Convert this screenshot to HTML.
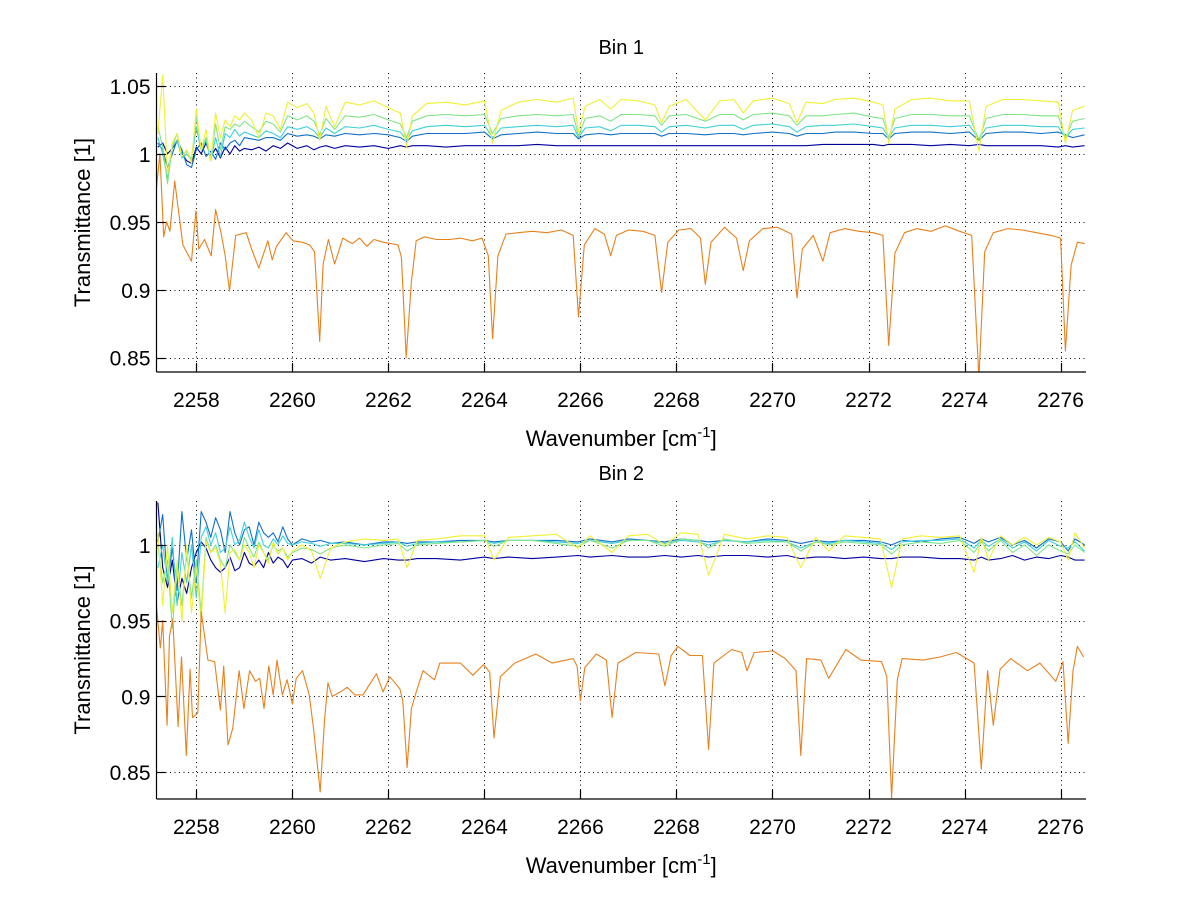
<!DOCTYPE html>
<html><head><meta charset="utf-8"><style>
html,body{margin:0;padding:0;background:#fff;}
svg{display:block;font-family:"Liberation Sans",sans-serif;}
</style></head><body>
<svg id="fig" width="1200" height="901" xmlns="http://www.w3.org/2000/svg"></svg>
<script>
// ---------- shared axis settings ----------
const xTicks = [2258,2260,2262,2264,2266,2268,2270,2272,2274,2276];
const topYTicks = [0.85,0.9,0.95,1,1.05];
const topYLabels = ["0.85","0.9","0.95","1","1.05"];
const botYTicks = [0.85,0.9,0.95,1];
const botYLabels = ["0.85","0.9","0.95","1"];

// ---------- Bin 1 data ----------
const topGridX = [2257.2,2257.3,2257.4,2257.5,2257.6,2257.7,2257.8,2257.9,2258.0,2258.1,2258.2,2258.3,2258.4,2258.5,2258.6,2258.7,2258.8,2258.9,2259.0,
2259.15,2259.3,2259.45,2259.6,2259.75,2259.9,
2260.1,2260.3,2260.45,2260.57,2260.7,2260.88,
2261.1,2261.4,2261.7,2262.0,2262.25,2262.38,2262.5,2262.8,
2263.2,2263.6,2264.0,2264.17,2264.35,2264.7,
2265.1,2265.5,2265.85,2265.96,2266.1,2266.4,2266.63,2266.85,
2267.2,2267.55,2267.69,2267.85,2268.2,2268.6,2268.9,
2269.2,2269.39,2269.6,2270.0,2270.35,2270.51,2270.7,
2271.05,2271.3,2271.7,2272.1,2272.3,2272.42,2272.55,2272.9,
2273.3,2273.7,2274.1,2274.3,2274.45,2274.8,
2275.2,2275.6,2275.95,2276.1,2276.25,2276.5];
const topNavy = [1.005,1.008,1.000,1.004,1.010,1.000,0.995,0.993,1.005,1.000,1.008,0.998,1.004,0.997,1.005,1.000,1.006,1.002,1.004,
1.003,1.005,1.002,1.006,1.004,1.008,
1.004,1.006,1.003,1.005,1.006,1.004,
1.006,1.005,1.006,1.004,1.006,1.005,1.006,1.006,
1.005,1.006,1.006,1.006,1.006,1.006,
1.007,1.006,1.006,1.006,1.006,1.006,1.006,1.006,
1.006,1.006,1.006,1.006,1.006,1.006,1.006,
1.006,1.006,1.006,1.006,1.006,1.006,1.006,
1.007,1.007,1.007,1.007,1.006,1.007,1.007,1.007,
1.006,1.007,1.006,1.007,1.006,1.006,
1.006,1.006,1.005,1.006,1.005,1.006];
const topBlue = [1.008,1.003,0.990,1.000,1.010,1.003,0.992,0.990,1.003,1.008,0.998,1.002,0.996,1.008,1.003,1.008,1.010,1.006,1.012,
1.011,1.010,1.012,1.012,1.010,1.015,
1.013,1.014,1.013,1.011,1.014,1.013,
1.015,1.014,1.015,1.014,1.012,1.009,1.013,1.015,
1.015,1.015,1.016,1.011,1.014,1.015,
1.016,1.015,1.015,1.011,1.014,1.015,1.014,1.015,
1.015,1.015,1.013,1.015,1.015,1.014,1.015,
1.015,1.014,1.015,1.016,1.015,1.013,1.015,
1.015,1.016,1.016,1.015,1.015,1.011,1.015,1.016,
1.016,1.015,1.016,1.010,1.015,1.016,
1.016,1.015,1.016,1.014,1.012,1.014];
const topCyan = [1.012,1.000,0.982,1.005,1.010,0.997,1.000,0.995,1.020,1.002,1.010,0.995,1.012,0.998,1.015,1.012,1.018,1.013,1.016,
1.014,1.012,1.017,1.015,1.012,1.020,
1.018,1.020,1.017,1.012,1.019,1.015,
1.020,1.019,1.021,1.018,1.016,1.010,1.017,1.020,
1.021,1.020,1.021,1.012,1.019,1.020,
1.021,1.020,1.021,1.012,1.019,1.020,1.017,1.021,
1.021,1.020,1.016,1.020,1.021,1.019,1.021,
1.021,1.018,1.021,1.022,1.020,1.016,1.020,
1.021,1.021,1.022,1.020,1.019,1.012,1.019,1.021,
1.021,1.020,1.021,1.011,1.019,1.021,
1.021,1.020,1.020,1.012,1.018,1.019];
const topGreen = [1.020,1.005,0.978,1.005,1.015,0.998,1.002,0.996,1.028,1.003,1.012,0.996,1.022,1.003,1.020,1.018,1.022,1.020,1.024,
1.020,1.016,1.024,1.022,1.016,1.028,
1.025,1.028,1.024,1.014,1.026,1.018,
1.028,1.027,1.029,1.025,1.022,1.012,1.024,1.028,
1.029,1.028,1.029,1.015,1.026,1.028,
1.029,1.028,1.029,1.013,1.026,1.028,1.024,1.029,
1.029,1.028,1.021,1.028,1.029,1.024,1.029,
1.029,1.025,1.029,1.030,1.028,1.021,1.028,
1.028,1.029,1.030,1.027,1.026,1.012,1.026,1.029,
1.029,1.028,1.028,1.010,1.026,1.029,
1.029,1.028,1.028,1.012,1.024,1.026];
const topYellow = [1.015,1.058,0.985,1.008,1.015,0.998,1.003,0.993,1.033,1.002,1.018,0.995,1.030,1.012,1.025,1.020,1.028,1.025,1.030,
1.025,1.012,1.030,1.028,1.018,1.038,
1.034,1.037,1.030,1.010,1.035,1.020,
1.038,1.036,1.039,1.034,1.030,1.005,1.028,1.037,
1.038,1.036,1.039,1.008,1.032,1.038,
1.040,1.038,1.041,1.016,1.035,1.040,1.033,1.040,
1.039,1.036,1.023,1.035,1.040,1.025,1.039,
1.040,1.030,1.039,1.041,1.037,1.023,1.038,
1.037,1.040,1.041,1.038,1.036,1.008,1.033,1.040,
1.041,1.039,1.039,1.002,1.035,1.040,
1.040,1.039,1.038,1.008,1.032,1.035];
const topOrangeX = [2257.17,2257.24,2257.32,2257.38,2257.45,2257.55,2257.72,2257.9,2257.99,2258.05,2258.17,2258.31,2258.4,2258.52,2258.6,2258.69,2258.82,2259.04,2259.14,2259.3,2259.49,2259.58,2259.67,2259.87,2260.01,2260.2,2260.36,2260.46,2260.57,2260.64,2260.75,2260.88,2261.05,2261.25,2261.4,2261.55,2261.7,2261.89,2262.05,2262.2,2262.27,2262.37,2262.48,2262.58,2262.75,2263.0,2263.28,2263.5,2263.75,2263.95,2264.08,2264.17,2264.28,2264.45,2264.7,2265.0,2265.3,2265.6,2265.85,2265.96,2266.08,2266.3,2266.5,2266.63,2266.75,2267.0,2267.3,2267.55,2267.69,2267.82,2268.05,2268.3,2268.5,2268.6,2268.72,2269.0,2269.25,2269.39,2269.52,2269.8,2270.1,2270.4,2270.51,2270.62,2270.85,2271.05,2271.2,2271.5,2271.8,2272.1,2272.3,2272.42,2272.55,2272.75,2273.0,2273.3,2273.6,2273.9,2274.15,2274.3,2274.42,2274.6,2274.9,2275.2,2275.5,2275.8,2276.0,2276.1,2276.22,2276.35,2276.5];
const topOrange = [0.975,1.000,0.939,0.950,0.943,0.980,0.933,0.921,0.958,0.930,0.937,0.925,0.959,0.941,0.925,0.899,0.940,0.942,0.931,0.916,0.936,0.922,0.932,0.942,0.936,0.935,0.933,0.928,0.862,0.919,0.937,0.919,0.938,0.934,0.938,0.932,0.937,0.935,0.934,0.933,0.924,0.850,0.906,0.936,0.939,0.937,0.937,0.938,0.936,0.938,0.925,0.864,0.925,0.941,0.942,0.943,0.942,0.944,0.940,0.880,0.933,0.945,0.941,0.925,0.940,0.944,0.943,0.940,0.898,0.935,0.944,0.945,0.938,0.904,0.935,0.946,0.938,0.914,0.936,0.945,0.946,0.941,0.894,0.930,0.940,0.921,0.942,0.945,0.943,0.942,0.940,0.859,0.927,0.942,0.945,0.943,0.947,0.943,0.940,0.835,0.928,0.942,0.945,0.944,0.942,0.940,0.938,0.855,0.918,0.935,0.934];

// ---------- Bin 2 data ----------
const botGridX = [2257.2,2257.3,2257.4,2257.5,2257.6,2257.7,2257.8,2257.9,2258.0,2258.1,
2258.2,2258.3,2258.4,2258.5,2258.6,2258.7,2258.8,2258.9,2259.0,2259.1,
2259.2,2259.3,2259.4,2259.5,2259.6,2259.7,2259.8,2259.9,2260.0,
2260.2,2260.4,2260.58,2260.8,2261.1,2261.5,2261.9,2262.2,2262.39,2262.6,
2263.0,2263.5,2264.0,2264.2,2264.5,2265.0,2265.5,2265.95,2266.2,2266.66,
2267.0,2267.4,2267.76,2268.1,2268.45,2268.67,2269.0,2269.47,2269.9,2270.3,
2270.59,2270.9,2271.17,2271.5,2271.9,2272.25,2272.48,2272.7,2273.1,2273.5,
2273.9,2274.2,2274.35,2274.5,2274.75,2275.0,2275.25,2275.5,2275.75,2276.0,
2276.16,2276.3,2276.5];
const botNavy = [1.028,0.985,0.972,0.990,0.962,0.978,0.968,0.985,0.995,1.002,
0.998,0.990,0.985,0.982,0.985,0.992,0.983,0.985,0.995,0.988,
0.986,0.990,0.985,0.995,0.988,0.992,0.990,0.985,0.990,
0.991,0.988,0.992,0.990,0.991,0.989,0.991,0.990,0.990,0.991,
0.991,0.990,0.992,0.991,0.992,0.991,0.992,0.993,0.992,0.993,
0.992,0.992,0.993,0.992,0.993,0.992,0.993,0.993,0.992,0.993,
0.991,0.992,0.992,0.991,0.992,0.991,0.991,0.992,0.992,0.991,
0.991,0.990,0.992,0.990,0.991,0.993,0.990,0.992,0.991,0.993,
0.992,0.990,0.990];
const botBlue = [1.002,1.020,0.975,0.998,0.970,1.022,0.990,1.010,0.975,1.022,
1.015,1.005,1.018,1.010,0.995,1.022,1.008,1.000,1.010,1.012,
1.000,1.015,1.008,1.005,1.008,1.002,1.012,1.004,1.000,
1.004,1.002,1.003,1.001,1.002,1.000,1.002,1.002,1.001,1.002,
1.002,1.003,1.003,1.002,1.003,1.003,1.003,1.002,1.004,1.002,
1.004,1.003,1.002,1.004,1.003,1.002,1.003,1.002,1.004,1.003,
1.001,1.003,1.002,1.003,1.003,1.002,1.000,1.003,1.002,1.004,
1.005,1.001,1.004,1.002,1.005,1.000,1.003,0.998,1.004,1.002,
0.996,1.004,1.000];
const botCyan = [0.985,1.000,0.975,1.005,0.960,0.995,0.975,1.000,0.965,1.005,
1.012,1.000,1.008,0.995,0.998,1.012,1.000,1.003,1.015,1.005,
0.998,1.010,1.000,0.998,1.004,1.000,1.006,1.001,1.000,
1.002,1.001,0.999,1.001,1.001,1.000,1.001,1.002,0.999,1.001,
1.002,1.002,1.003,1.001,1.003,1.003,1.002,1.001,1.003,1.001,
1.003,1.003,1.001,1.003,1.002,1.000,1.003,1.002,1.003,1.002,
0.998,1.002,1.001,1.003,1.002,1.001,0.997,1.002,1.003,1.003,
1.004,0.998,1.003,0.999,1.004,0.998,1.002,0.996,1.003,0.999,
0.998,1.002,0.996];
const botGreen = [1.000,0.975,0.990,0.945,0.985,0.960,0.995,0.965,0.990,0.955,
1.005,0.995,1.000,0.990,0.985,1.000,0.995,0.990,1.005,0.998,
0.992,1.002,0.995,0.990,1.000,0.996,0.998,0.992,0.995,
0.998,0.997,0.994,0.998,1.000,0.998,1.000,1.001,0.996,1.000,
1.001,1.002,1.003,0.999,1.003,1.003,1.001,0.999,1.003,0.998,
1.003,1.003,0.999,1.004,1.003,0.998,1.004,1.001,1.002,1.002,
0.996,1.002,1.000,1.002,1.001,1.000,0.994,1.000,1.002,1.001,
1.003,0.995,1.002,0.996,1.003,0.995,1.000,0.993,1.000,0.996,
0.994,1.000,0.995];
const botYellow = [1.008,0.960,1.000,0.955,0.990,0.950,1.000,0.955,0.985,0.950,
1.002,0.995,0.998,0.988,0.955,0.995,0.997,0.990,1.000,0.995,
0.985,1.000,0.995,0.988,1.002,0.994,0.998,0.990,0.996,
1.000,0.996,0.978,0.998,1.002,1.004,1.003,1.004,0.985,1.003,
1.004,1.006,1.006,0.990,1.005,1.006,1.007,0.998,1.006,0.995,
1.006,1.007,1.000,1.008,1.007,0.980,1.007,1.004,1.006,1.005,
0.985,1.005,0.996,1.006,1.005,1.004,0.972,1.004,1.006,1.005,
1.006,0.982,1.005,0.990,1.006,1.000,1.005,1.000,1.005,1.002,
0.990,1.008,0.998];
const botOrangeX = [2257.15,2257.25,2257.3,2257.39,2257.44,2257.51,2257.62,2257.69,2257.79,2257.87,2257.92,2258.03,2258.1,2258.24,2258.38,2258.5,2258.57,2258.66,2258.76,2258.89,2258.99,2259.11,2259.23,2259.32,2259.41,2259.51,2259.6,2259.68,2259.79,2259.89,2260.0,2260.08,2260.21,2260.35,2260.44,2260.58,2260.67,2260.74,2260.83,2261.0,2261.14,2261.3,2261.47,2261.75,2261.89,2262.03,2262.24,2262.3,2262.39,2262.48,2262.58,2262.72,2262.96,2263.07,2263.5,2263.76,2263.98,2264.11,2264.2,2264.33,2264.63,2265.07,2265.41,2265.85,2265.93,2266.0,2266.09,2266.33,2266.54,2266.66,2266.78,2267.15,2267.63,2267.76,2267.89,2268.03,2268.28,2268.54,2268.67,2268.78,2269.15,2269.36,2269.47,2269.62,2270.01,2270.27,2270.49,2270.59,2270.71,2271.01,2271.17,2271.53,2271.84,2272.27,2272.38,2272.48,2272.6,2272.7,2273.14,2273.49,2273.83,2274.2,2274.35,2274.48,2274.6,2274.74,2274.96,2275.31,2275.57,2275.9,2276.05,2276.16,2276.26,2276.35,2276.48];
const botOrange = [0.967,0.932,0.950,0.881,0.940,0.951,0.880,0.926,0.861,0.918,0.886,0.889,0.956,0.924,0.923,0.891,0.920,0.868,0.879,0.917,0.892,0.917,0.910,0.912,0.892,0.920,0.901,0.924,0.901,0.911,0.895,0.912,0.917,0.901,0.879,0.837,0.884,0.909,0.900,0.903,0.906,0.901,0.901,0.915,0.903,0.913,0.905,0.897,0.853,0.892,0.903,0.917,0.911,0.922,0.922,0.914,0.921,0.916,0.8725,0.913,0.922,0.928,0.922,0.925,0.920,0.897,0.919,0.928,0.924,0.886,0.922,0.929,0.928,0.907,0.927,0.933,0.927,0.927,0.865,0.922,0.931,0.929,0.917,0.929,0.930,0.925,0.917,0.861,0.925,0.924,0.912,0.931,0.924,0.923,0.913,0.833,0.911,0.925,0.924,0.926,0.929,0.922,0.852,0.917,0.881,0.918,0.925,0.917,0.922,0.910,0.923,0.869,0.917,0.933,0.926];

const colors = ["#0000a0","#1070c8","#40d0d8","#80e488","#f0f030","#e8801c"];
const NS = "http://www.w3.org/2000/svg";
const svg = document.getElementById("fig");

function mk(tag, attrs, parent){
  const e = document.createElementNS(NS, tag);
  for (const k in attrs) e.setAttribute(k, attrs[k]);
  (parent||svg).appendChild(e);
  return e;
}

function panel(cfg){
  const g = mk("g", {});
  
  
  const xs = v => cfg.x0 + (v - cfg.xmin) / (cfg.xmax - cfg.xmin) * (cfg.x1 - cfg.x0);
  const ys = v => cfg.y1 - (v - cfg.ymin) / (cfg.ymax - cfg.ymin) * (cfg.y1 - cfg.y0);
  const cid = cfg.name + "-clip";
  const defs = mk("defs", {}, g);
  const cp = mk("clipPath", {id: cid}, defs);
  mk("rect", {x: cfg.x0, y: cfg.y0 - 2, width: cfg.x1 - cfg.x0, height: cfg.y1 - cfg.y0 + 2}, cp);
  const grid = mk("g", {stroke: "#000", "stroke-width": 1, "stroke-dasharray": "1,3.5"}, g);
  
  
  xTicks.forEach(t => { const px = Math.round(xs(t)) + 0.5; mk("line", {x1: px, x2: px, y1: cfg.y0, y2: cfg.y1}, grid); });
  cfg.yTicks.forEach(t => { const py = Math.round(ys(t)) + 0.5; mk("line", {x1: cfg.x0, x2: cfg.x1, y1: py, y2: py}, grid); });
  const lines = mk("g", {"clip-path": "url(#" + cid + ")", fill: "none", "stroke-width": 1.1, "stroke-linejoin": "round"}, g);
  cfg.series.forEach((s, i) => {
    const xa = s.x, ya = s.y, n = Math.min(xa.length, ya.length);
    let d = "";
    for (let k = 0; k < n; k++) d += (k ? "L" : "M") + xs(xa[k]).toFixed(1) + "," + ys(ya[k]).toFixed(1);
    const p = mk("path", {d: d, stroke: s.c}, lines);
    
    
  });
  const ax = mk("g", {stroke: "#000", "stroke-width": 1.2}, g);
  
  
  mk("line", {x1: cfg.x0, x2: cfg.x1, y1: cfg.y1, y2: cfg.y1}, ax);
  mk("line", {x1: cfg.x0, x2: cfg.x0, y1: cfg.y0, y2: cfg.y1}, ax);
  xTicks.forEach(t => { const px = Math.round(xs(t)) + 0.5; mk("line", {x1: px, x2: px, y1: cfg.y1, y2: cfg.y1 - 9}, ax); });
  cfg.yTicks.forEach(t => { const py = Math.round(ys(t)) + 0.5; mk("line", {x1: cfg.x0, x2: cfg.x0 + 9, y1: py, y2: py}, ax); });
  xTicks.forEach(t => {
    const tx = mk("text", {x: xs(t), y: cfg.y1 + 35, "text-anchor": "middle", "font-size": 21, fill: "#000"}, g);
    tx.textContent = String(t);
    
    
  });
  cfg.yTicks.forEach((t, i) => {
    const tx = mk("text", {x: cfg.x0 - 6, y: ys(t) + 8, "text-anchor": "end", "font-size": 21, fill: "#000"}, g);
    tx.textContent = cfg.yLabels[i];
    
    
  });
  const tt = mk("text", {x: (cfg.x0 + cfg.x1) / 2, y: cfg.titleY, "text-anchor": "middle", "font-size": 20, fill: "#000"}, g);
  tt.textContent = cfg.title;
  
  
  const xl = mk("text", {x: (cfg.x0 + cfg.x1) / 2, y: cfg.y1 + 74, "text-anchor": "middle", "font-size": 22, fill: "#000"}, g);
  
  
  xl.appendChild(document.createTextNode("Wavenumber [cm"));
  const sup = mk("tspan", {dy: -9, "font-size": 15}, xl); sup.textContent = "-1";
  const cl = mk("tspan", {dy: 9}, xl); cl.textContent = "]";
  const yc = (cfg.y0 + cfg.y1) / 2;
  const yl = mk("text", {x: 0, y: 0, transform: "translate(90," + yc + ") rotate(-90)", "text-anchor": "middle", "font-size": 22, fill: "#000"}, g);
  yl.textContent = "Transmittance [1]";
  
  
}

panel({name: "bin-1-panel", title: "Bin 1", titleY: 54, x0: 156.5, x1: 1086, y0: 73, y1: 372,
  xmin: 2257.17, xmax: 2276.53, ymin: 0.8395, ymax: 1.0595,
  yTicks: topYTicks, yLabels: topYLabels,
  series: [
    {name: "bin1-series-1", x: topGridX, y: topNavy, c: colors[0]},
    {name: "bin1-series-2", x: topGridX, y: topBlue, c: colors[1]},
    {name: "bin1-series-3", x: topGridX, y: topCyan, c: colors[2]},
    {name: "bin1-series-4", x: topGridX, y: topGreen, c: colors[3]},
    {name: "bin1-series-5", x: topGridX, y: topYellow, c: colors[4]},
    {name: "bin1-reference", x: topOrangeX, y: topOrange, c: colors[5]}
  ]});
panel({name: "bin-2-panel", title: "Bin 2", titleY: 480, x0: 156.5, x1: 1086, y0: 501, y1: 799,
  xmin: 2257.17, xmax: 2276.53, ymin: 0.8323, ymax: 1.029,
  yTicks: botYTicks, yLabels: botYLabels,
  series: [
    {name: "bin2-series-1", x: botGridX, y: botNavy, c: colors[0]},
    {name: "bin2-series-2", x: botGridX, y: botBlue, c: colors[1]},
    {name: "bin2-series-3", x: botGridX, y: botCyan, c: colors[2]},
    {name: "bin2-series-4", x: botGridX, y: botGreen, c: colors[3]},
    {name: "bin2-series-5", x: botGridX, y: botYellow, c: colors[4]},
    {name: "bin2-reference", x: botOrangeX, y: botOrange, c: colors[5]}
  ]});
</script>
</body></html>
